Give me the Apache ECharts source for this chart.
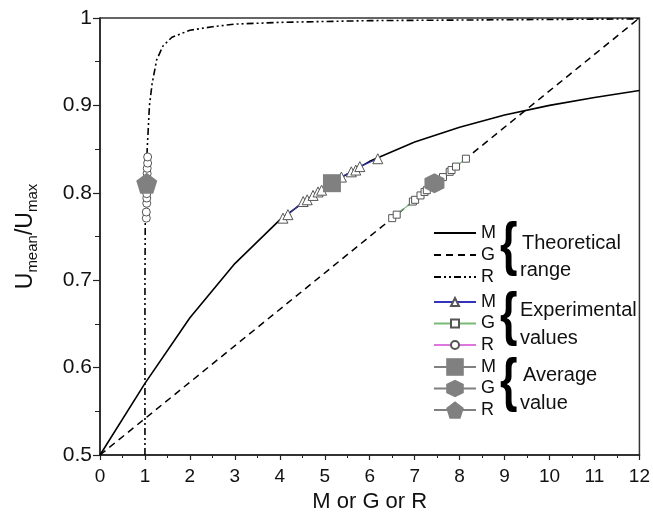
<!DOCTYPE html>
<html>
<head>
<meta charset="utf-8" />
<title>Umean/Umax vs M, G, R</title>
<script src="https://cdn.jsdelivr.net/npm/echarts@6/dist/echarts.min.js"></script>
</head>
<body style="margin:0;background:#fff;">
<div id="main" style="width:653px;height:521px;"></div>
<script>
// theoretical curves
var mTheoryX = [0, 1, 2, 3, 4, 5, 6, 7, 8, 9, 10, 11, 12];
var mTheoryY = [0.5, 0.582, 0.657, 0.719, 0.769, 0.807, 0.836, 0.858, 0.875, 0.889, 0.900, 0.909, 0.917];
var gTheoryX = [0, 12];
var gTheoryY = [0.5, 1.0];
var rTheoryX = [1.0, 1.0, 1.01, 1.05, 1.1, 1.16, 1.26, 1.4, 1.6, 2.0, 2.5, 3.0, 4.0, 6.0, 9.0, 12.0];
var rTheoryY = [0.5, 0.7, 0.8, 0.85, 0.9, 0.925, 0.952, 0.968, 0.978, 0.986, 0.99, 0.993, 0.995, 0.997, 0.998, 0.999];

// experimental values
var mExpX = [4.07, 4.18, 4.52, 4.61, 4.74, 4.85, 4.93, 5.37, 5.59, 5.69, 5.78, 6.18];
var mExpY = [0.771, 0.775, 0.790, 0.792, 0.797, 0.801, 0.803, 0.818, 0.824, 0.826, 0.830, 0.839];
var gExpX = [6.50, 6.60, 6.96, 7.01, 7.13, 7.22, 7.27, 7.63, 7.78, 7.82, 7.92, 8.14];
var gExpY = [0.771, 0.775, 0.790, 0.792, 0.797, 0.801, 0.803, 0.818, 0.824, 0.826, 0.830, 0.839];
var rExpX = [1.03, 1.03, 1.04, 1.04, 1.04, 1.05, 1.05, 1.05, 1.05, 1.06, 1.06];
var rExpY = [0.771, 0.778, 0.788, 0.794, 0.799, 0.806, 0.815, 0.822, 0.828, 0.834, 0.841];

// average values
var mAvg = [5.16, 0.811];
var gAvg = [7.44, 0.811];
var rAvg = [1.04, 0.811];

var xTicks = [0, 1, 2, 3, 4, 5, 6, 7, 8, 9, 10, 11, 12];

function pairs(xs, ys) {
	var out = [];
	for (var i = 0; i < xs.length; i++) out.push([xs[i], ys[i]]);
	return out;
}

var FONT = 'Liberation Sans';
var hexagon = 'path://M0,-1 L0.866,-0.5 L0.866,0.5 L0,1 L-0.866,0.5 L-0.866,-0.5 Z';
var pentagon = 'path://M0,-1 L0.951,-0.309 L0.588,0.809 L-0.588,0.809 L-0.951,-0.309 Z';

var myChart = echarts.init(document.getElementById('main'));

function legendBox(top, itemHeight, gap, names, hideSymbol) {
	var lg = {
		orient: 'vertical',
		left: 433,
		top: top,
		padding: 0,
		itemWidth: 42,
		itemHeight: itemHeight,
		itemGap: gap,
		selectedMode: false,
		data: names,
		formatter: function (name) { return name.charAt(0); },
		textStyle: { fontFamily: FONT, fontSize: 18, color: '#111', lineHeight: 20 }
	};
	if (hideSymbol) lg.itemStyle = { opacity: 0 };
	return lg;
}

function brace(y) {
	return {
		type: 'text', x: 500, y: y, scaleX: 0.75,
		style: { text: '{', font: 'bold 60px "Liberation Sans"', fill: '#000', verticalAlign: 'top' }
	};
}

function groupText(x, y, txt) {
	return {
		type: 'text', x: x, y: y,
		style: { text: txt, font: '20px "Liberation Sans"', fill: '#111', verticalAlign: 'middle' }
	};
}

var option = {
	animation: false,
	backgroundColor: '#fff',
	grid: {
		left: 100, right: 13, top: 18, bottom: 66,
		show: true, borderColor: '#333', borderWidth: 1.5
	},
	legend: [
		legendBox(223, 14, 2, ['M theoretical', 'G theoretical', 'R theoretical'], true),
		legendBox(292, 10, 1.5, ['M experimental', 'G experimental', 'R experimental'], false),
		legendBox(357, 22, 1.5, ['M average', 'G average', 'R average'], false)
	],
	xAxis: {
		type: 'value',
		min: 0, max: 12, interval: 1,
		name: 'M or G or R',
		nameLocation: 'middle',
		nameGap: 28,
		nameTextStyle: { fontFamily: FONT, fontSize: 22, color: '#111' },
		axisLine: { lineStyle: { color: '#222', width: 1.5 } },
		axisTick: { inside: false, length: 5, lineStyle: { color: '#222', width: 1.2 } },
		minorTick: { show: true, splitNumber: 2, length: 3, lineStyle: { color: '#222' } },
		splitLine: { show: false },
		axisLabel: {
			fontFamily: FONT, fontSize: 19, color: '#111', margin: 12,
			formatter: function (v) { return xTicks.indexOf(v) >= 0 ? String(v) : ''; }
		}
	},
	yAxis: {
		type: 'value',
		min: 0.5, max: 1, interval: 0.1,
		name: '{a|U}{b|mean}{a|/U}{b|max}',
		nameLocation: 'middle',
		nameGap: 60,
		nameTextStyle: {
			color: '#111',
			rich: {
				a: { fontFamily: FONT, fontSize: 23, color: '#111', lineHeight: 28 },
				b: { fontFamily: FONT, fontSize: 15, color: '#111', lineHeight: 14, verticalAlign: 'bottom' }
			}
		},
		axisLine: { lineStyle: { color: '#222', width: 1.5 } },
		axisTick: { length: 7, lineStyle: { color: '#222', width: 1.2 } },
		minorTick: { show: true, splitNumber: 2, length: 5, lineStyle: { color: '#222' } },
		splitLine: { show: false },
		axisLabel: {
			fontFamily: FONT, fontSize: 21, color: '#111', margin: 8,
			formatter: function (v) { return String(Math.round(v * 10) / 10); }
		}
	},
	series: [
		{
			name: 'M theoretical', type: 'line', symbol: 'none', z: 2,
			lineStyle: { color: '#000', width: 1.6, type: 'solid' },
			itemStyle: { color: '#000' },
			data: pairs(mTheoryX, mTheoryY)
		},
		{
			name: 'G theoretical', type: 'line', symbol: 'none', z: 2,
			lineStyle: { color: '#000', width: 1.5, type: [7, 5] },
			itemStyle: { color: '#000' },
			data: pairs(gTheoryX, gTheoryY)
		},
		{
			name: 'R theoretical', type: 'line', symbol: 'none', z: 2,
			lineStyle: { color: '#000', width: 1.6, type: [7, 3, 2, 3, 2, 3] },
			itemStyle: { color: '#000' },
			data: pairs(rTheoryX, rTheoryY)
		},
		{
			name: 'M experimental', type: 'line', symbol: 'triangle', symbolSize: 10, z: 3,
			lineStyle: { color: '#3333bb', width: 1.2 },
			itemStyle: { color: '#fff', borderColor: '#555', borderWidth: 1 },
			data: pairs(mExpX, mExpY)
		},
		{
			name: 'G experimental', type: 'line', symbol: 'rect', symbolSize: 7, z: 3,
			lineStyle: { color: '#77bb77', width: 1.2 },
			itemStyle: { color: '#fff', borderColor: '#555', borderWidth: 1 },
			data: pairs(gExpX, gExpY)
		},
		{
			name: 'R experimental', type: 'line', symbol: 'circle', symbolSize: 8, z: 3,
			lineStyle: { color: '#dd77dd', width: 1.2 },
			itemStyle: { color: '#fff', borderColor: '#555', borderWidth: 1 },
			data: pairs(rExpX, rExpY)
		},
		{
			name: 'M average', type: 'line', symbol: 'rect', symbolSize: 18, z: 4,
			lineStyle: { color: '#808080', width: 1.5 },
			itemStyle: { color: '#808080' },
			data: [mAvg]
		},
		{
			name: 'G average', type: 'line', symbol: hexagon, symbolSize: 20, z: 4,
			lineStyle: { color: '#808080', width: 1.5 },
			itemStyle: { color: '#808080' },
			data: [gAvg]
		},
		{
			name: 'R average', type: 'line', symbol: pentagon, symbolSize: 21, z: 4,
			lineStyle: { color: '#808080', width: 1.5 },
			itemStyle: { color: '#808080' },
			data: [rAvg]
		}
	],
	graphic: [
		brace(217), brace(287), brace(353),
		groupText(522, 243, 'Theoretical'),
		groupText(520, 270, 'range'),
		groupText(520, 310, 'Experimental'),
		groupText(520, 338, 'values'),
		groupText(523, 375, 'Average'),
		groupText(520, 403, 'value')
	]
};
myChart.setOption(option);
</script>
</body>
</html>
